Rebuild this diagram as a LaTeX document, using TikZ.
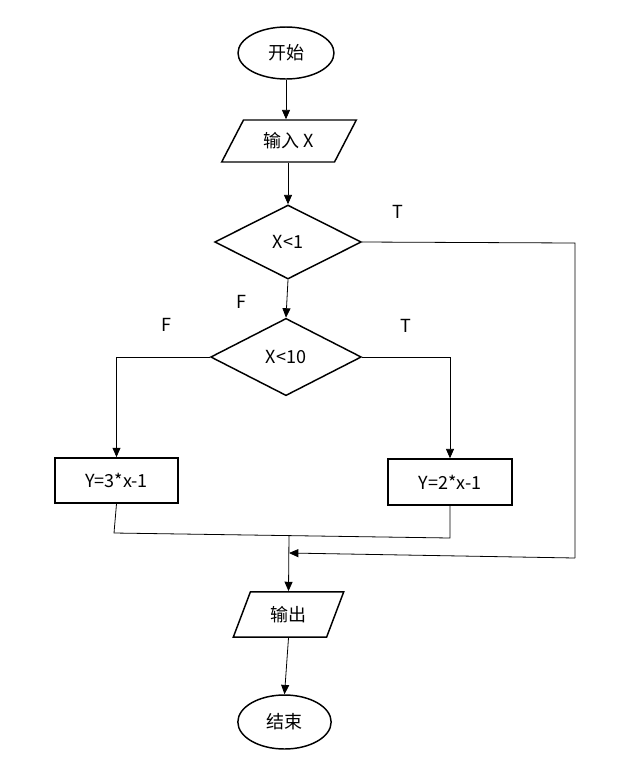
\documentclass[tikz,border=0pt]{standalone}
\usepackage{fontspec}
\setmainfont{Noto Sans CJK SC}
\usetikzlibrary{shapes.geometric,arrows.meta}
\tikzset{
  terminal/.style = {draw, ellipse, line width=1.1pt, minimum width=72pt,
    minimum height=39pt, inner sep=0pt},
  process/.style = {draw, rectangle, line width=1.1pt, minimum width=92pt,
    minimum height=34pt, inner sep=0pt},
  decision/.style = {draw, diamond, line width=1.1pt, inner sep=0pt},
  io/.style = {draw, trapezium, trapezium stretches=true, line width=1.1pt,
    inner sep=0pt},
  flow/.style = {line width=0.6pt, -{Triangle[length=7pt,width=6pt]}},
  link/.style = {line width=0.6pt}
}

\begin{document}
\begin{tikzpicture}[x=0.75pt,y=-0.75pt,font=\fontsize{13.5}{16}\selectfont]
  \useasboundingbox (0,0) rectangle (630,769);
  \node[terminal] (start) at (286,53) {开始};
  \node[io,trapezium left angle=54,trapezium right angle=126,
    minimum width=101pt,minimum height=31.5pt] (input) at (289,141) {输入 X};
  \node[decision,minimum width=110pt,minimum height=55.5pt] (cond1) at (288,242) {X<1};
  \node[decision,minimum width=113pt,minimum height=58pt] (cond2) at (286,357) {X<10};
  \node[process] (lbox) at (116.5,480.5) {Y=3*x-1};
  \node[process,minimum width=93pt,minimum height=34.5pt] (rbox) at (450,482) {Y=2*x-1};
  \node[io,trapezium left angle=64,trapezium right angle=116,
    minimum width=83pt,minimum height=34pt] (output) at (288.5,614.5) {输出};
  \node[terminal,minimum width=70pt,minimum height=40.5pt] (stop) at (284.5,722) {结束};

  \node (t1) at (398,212) {T};
  \node (f1) at (241,302) {F};
  \node (f2) at (166,325) {F};
  \node (t2) at (406,326) {T};

  \coordinate (r1) at (575,243);
  \coordinate (r2) at (575,558);
  \coordinate (m) at (289,553);
  \coordinate (jl) at (114,533);
  \coordinate (jr) at (450,538);
  \coordinate (j) at (289,535.5);

  \draw[flow] (start.south) -- (start.south |- input.north);
  \draw[flow] (cond1.north |- input.south) -- (cond1.north);
  \draw[link] (cond1.east) -- (r1) -- (r2);
  \draw[flow] (r2) -- (m);
  \draw[flow] (cond1.south) -- (cond2.north);
  \draw[flow] (cond2.west) -| (lbox.north);
  \draw[flow] (cond2.east) -| (rbox.north);
  \draw[link] (lbox.south) -- (jl) -- (jr) -- (rbox.south);
  \draw[flow] (j) -- (output.north);
  \draw[flow] (output.south) -- (stop.north);
\end{tikzpicture}
\end{document}
